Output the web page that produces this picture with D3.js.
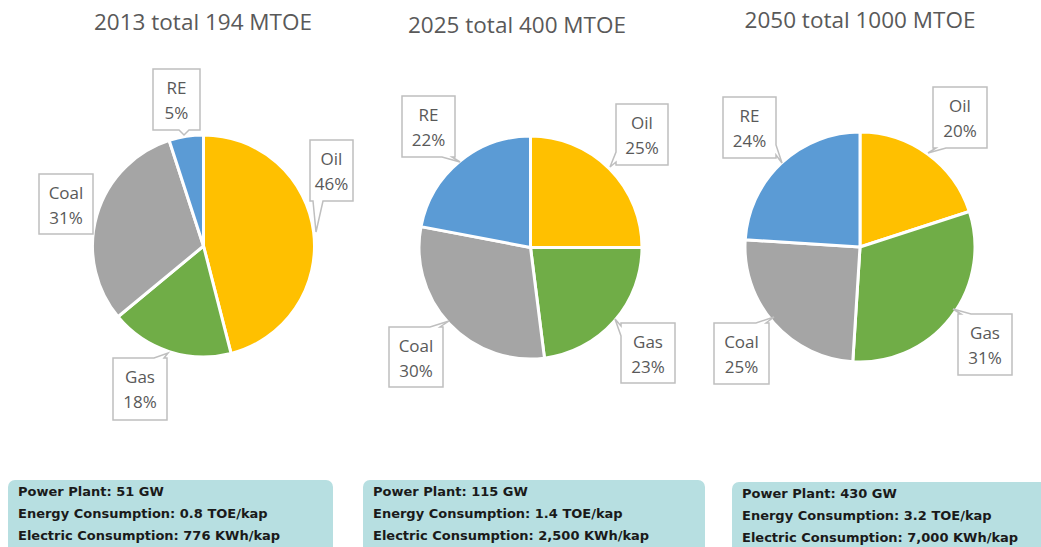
<!DOCTYPE html>
<html>
<head>
<meta charset="utf-8">
<script src="https://cdn.jsdelivr.net/npm/d3@7"></script>
<style>
  body { margin: 0; background: #fff; }
  svg { display: block; }
</style>
</head>
<body>
<div id="chart"></div>
<script>
// --- DATA ---
const sources = ["Oil", "Gas", "Coal", "RE"];
const years = ["2013", "2025", "2050"];
const totalsMtoe = [194, 400, 1000];
const share2013 = [46, 18, 31, 5];
const share2025 = [25, 23, 30, 22];
const share2050 = [20, 31, 25, 24];
const powerPlantGW = ["51", "115", "430"];
const energyToePerCap = ["0.8", "1.4", "3.2"];
const electricKwhPerCap = ["776", "2,500", "7,000"];

// --- LAYOUT ---
const width = 1041, height = 547;
const colors = { Oil: "#ffc000", Gas: "#70ad47", Coal: "#a5a5a5", RE: "#5b9bd5" };
const pies = [
    { cx: 203.5, cy: 246, r: 111, titleX: 203, titleY: 30, shares: share2013,
      labels: { // box [x0, y0, x1, y1] and pointer tip, in page coords
        Oil:  { box: [310, 140, 353, 201], tip: [316, 232] },
        Gas:  { box: [113, 358, 167, 420], tip: [168, 353] },
        Coal: { box: [39, 174, 93, 234], tip: null },
        RE:   { box: [153, 69, 200, 130], tip: [184, 135] } } },
    { cx: 530.5, cy: 247.5, r: 111.5, titleX: 517, titleY: 33, shares: share2025,
      labels: {
        Oil:  { box: [616, 104, 668, 165], tip: [610, 167] },
        Gas:  { box: [621, 323, 675, 383], tip: [615, 319] },
        Coal: { box: [389, 327, 443, 387], tip: [449, 321] },
        RE:   { box: [402, 96, 455, 157], tip: [460, 162] } } },
    { cx: 860, cy: 247, r: 115, titleX: 860, titleY: 28, shares: share2050,
      labels: {
        Oil:  { box: [933, 87, 987, 148], tip: [928, 153] },
        Gas:  { box: [958, 314, 1012, 375], tip: [953, 309] },
        Coal: { box: [714, 323, 769, 384], tip: [774, 317] },
        RE:   { box: [723, 97, 776, 158], tip: [782, 163] } } }
];
const infoBoxes = [
    { x: 8, y: 480, w: 325, textX: 18 },
    { x: 363, y: 480, w: 342, textX: 373 },
    { x: 732, y: 482, w: 330, textX: 742 }
];

const svg = d3.select("#chart").append("svg")
    .attr("width", width)
    .attr("height", height);

const pie = d3.pie().sort(null).value(d => d.value);

// rectangle outline with a thin wedge pointing at the slice
function calloutPath(b, tip) {
    const [x0, y0, x1, y1] = b;
    if (!tip) return `M${x0},${y0}H${x1}V${y1}H${x0}Z`;
    const [tx, ty] = tip;
    const bx = tx < x0 ? x0 - tx : tx > x1 ? tx - x1 : 0;
    const by = ty < y0 ? y0 - ty : ty > y1 ? ty - y1 : 0;
    const w = 5;
    let side;
    if (by >= bx) side = ty < y0 ? "top" : "bottom";
    else side = tx < x0 ? "left" : "right";
    const cx = Math.max(x0 + w + 3, Math.min(x1 - w - 3, tx));
    const cy = Math.max(y0 + w + 3, Math.min(y1 - w - 3, ty));
    let p = `M${x0},${y0}`;
    if (side === "top") p += `H${cx - w}L${tx},${ty}L${cx + w},${y0}`;
    p += `H${x1}`;
    if (side === "right") p += `V${cy - w}L${tx},${ty}L${x1},${cy + w}`;
    p += `V${y1}`;
    if (side === "bottom") p += `H${cx + w}L${tx},${ty}L${cx - w},${y1}`;
    p += `H${x0}`;
    if (side === "left") p += `V${cy + w}L${tx},${ty}L${x0},${cy - w}`;
    return p + "Z";
}

pies.forEach((p, i) => {
    const g = svg.append("g");

    // title
    g.append("text")
        .attr("x", p.titleX)
        .attr("y", p.titleY)
        .attr("text-anchor", "middle")
        .attr("font-family", "'Open Sans', sans-serif")
        .attr("font-size", 22.5)
        .attr("fill", "#595959")
        .text(`${years[i]} total ${totalsMtoe[i]} MTOE`);

    const data = sources.map((s, k) => ({ name: s, value: p.shares[k] }));
    const arc = d3.arc().innerRadius(0).outerRadius(p.r);

    g.append("g")
        .attr("transform", `translate(${p.cx},${p.cy})`)
        .selectAll("path")
        .data(pie(data))
        .join("path")
        .attr("d", arc)
        .attr("fill", d => colors[d.data.name])
        .attr("stroke", "#fff")
        .attr("stroke-width", 3)
        .attr("stroke-linejoin", "round");

    // callout labels
    const lab = g.append("g").selectAll("g")
        .data(data)
        .join("g");

    lab.append("path")
        .attr("d", d => calloutPath(p.labels[d.name].box, p.labels[d.name].tip))
        .attr("fill", "#fff")
        .attr("stroke", "#bfbfbf")
        .attr("stroke-width", 1.5);

    lab.each(function(d) {
        const [x0, y0, x1, y1] = p.labels[d.name].box;
        const t = d3.select(this).append("text")
            .attr("text-anchor", "middle")
            .attr("font-family", "'Open Sans', sans-serif")
            .attr("font-size", 17)
            .attr("fill", "#595959");
        t.append("tspan").attr("x", (x0 + x1) / 2).attr("y", y0 + 25).text(d.name);
        t.append("tspan").attr("x", (x0 + x1) / 2).attr("y", y0 + 50).text(d.value + "%");
    });
});

// --- INFO BOXES ---
infoBoxes.forEach((b, i) => {
    const g = svg.append("g");
    g.append("rect")
        .attr("x", b.x).attr("y", b.y)
        .attr("width", b.w).attr("height", 80)
        .attr("rx", 7)
        .attr("fill", "#b7dfe1");
    const lines = [
        `Power Plant: ${powerPlantGW[i]} GW`,
        `Energy Consumption: ${energyToePerCap[i]} TOE/kap`,
        `Electric Consumption: ${electricKwhPerCap[i]} KWh/kap`
    ];
    g.selectAll("text")
        .data(lines)
        .join("text")
        .attr("x", b.textX)
        .attr("y", (d, k) => b.y + 16 + k * 22)
        .attr("font-family", "'DejaVu Sans', sans-serif")
        .attr("font-weight", "bold")
        .attr("font-size", 13)
        .attr("fill", "#1a1a1a")
        .text(d => d);
});
</script>
</body>
</html>
